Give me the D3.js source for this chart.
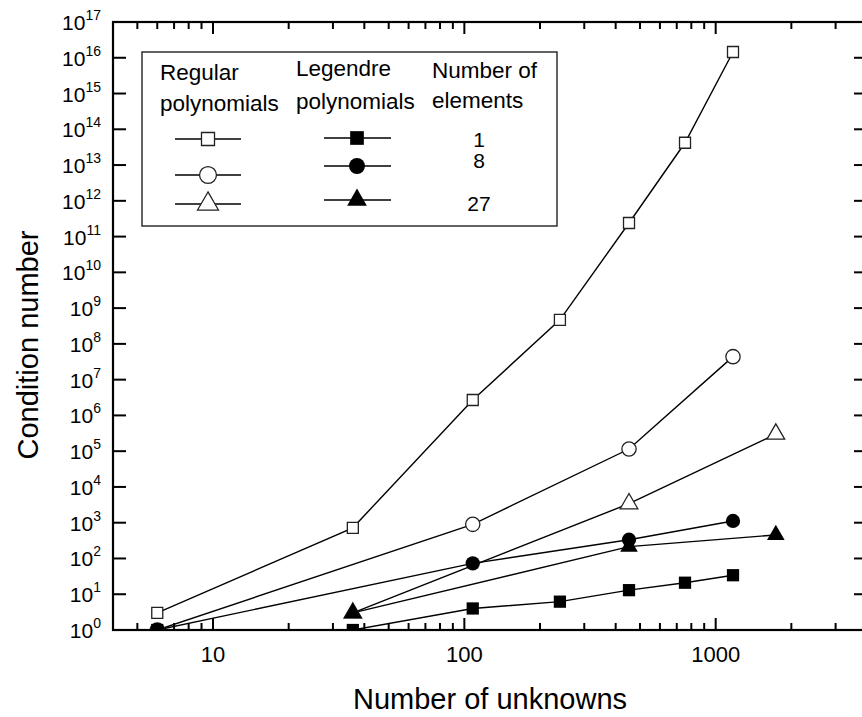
<!DOCTYPE html>
<html>
<head>
<meta charset="utf-8">
<script src="https://cdn.jsdelivr.net/npm/d3@7"></script>
<style>
  body { margin: 0; background: #fff; }
  text { font-family: "Liberation Sans", Arial, sans-serif; fill: #000; }
</style>
</head>
<body>
<div id="chart"></div>
<script>
// Data
const unknowns1 = [6, 36, 108, 240, 452, 755, 1172];
const regular1 = [3, 720, 2.7e6, 4.7e8, 2.4e11, 4.2e13, 1.45e16];
const legendre1 = [1, 1, 4.0, 6.2, 13, 21, 34];

const unknowns8 = [6, 108, 452, 1172];
const regular8 = [1, 900, 1.15e5, 4.4e7];
const legendre8 = [1, 73, 335, 1120];

const unknowns27 = [36, 452, 1735];
const regular27 = [3, 3400, 3.0e5];
const legendre27 = [3, 214, 454];

const yTickExps = d3.range(0, 18);
const xTickLabels = [10, 100, 1000];
const legendElements = ['1', '8', '27'];

const width = 862;
const height = 717;
const margin = {'top': 22, 'right': -5, 'bottom': 87, 'left': 113};

const x = d3.scaleLog().domain([4, 4000]).range([margin.left, width - margin.right]);
const y = d3.scaleLog().domain([1, 1e17]).range([height - margin.bottom, margin.top]);

const svg = d3.select('#chart')
    .append('svg')
    .attr('width', width)
    .attr('height', height);

svg.append('clipPath')
    .attr('id', 'plot-clip')
    .append('rect')
    .attr('x', margin.left)
    .attr('y', margin.top)
    .attr('width', x.range()[1] - margin.left)
    .attr('height', y.range()[0] - margin.top);

// marker shapes
const shapes = {
    square: { type: d3.symbolSquare, size: 121 },
    bigSquare: { type: d3.symbolSquare, size: 150 },
    circle: { type: d3.symbolCircle, size: 160 },
    triangle: { type: d3.symbolTriangle, size: 135 }
};

const series = [
    { xs: unknowns1, ys: regular1, shape: 'square', filled: false },
    { xs: unknowns8, ys: regular8, shape: 'circle', filled: false },
    { xs: unknowns27, ys: regular27, shape: 'triangle', filled: false },
    { xs: unknowns1, ys: legendre1, shape: 'bigSquare', filled: true },
    { xs: unknowns8, ys: legendre8, shape: 'circle', filled: true },
    { xs: unknowns27, ys: legendre27, shape: 'triangle', filled: true }
];

const plot = svg.append('g').attr('clip-path', 'url(#plot-clip)');

const line = d3.line()
    .x(d => x(d[0]))
    .y(d => y(d[1]));

series.forEach(s => {
    const pts = s.xs.map((v, i) => [v, s.ys[i]]);
    plot.append('path')
        .datum(pts)
        .attr('fill', 'none')
        .attr('stroke', '#000')
        .attr('stroke-width', 1.4)
        .attr('d', line);
});

series.forEach(s => {
    const pts = s.xs.map((v, i) => [v, s.ys[i]]);
    const sym = d3.symbol().type(shapes[s.shape].type).size(shapes[s.shape].size);
    plot.selectAll(null)
        .data(pts)
        .enter()
        .append('path')
        .attr('d', sym)
        .attr('transform', d => `translate(${x(d[0])}, ${y(d[1])})`)
        .attr('fill', s.filled ? '#000' : '#fff')
        .attr('stroke', s.filled ? 'none' : '#222')
        .attr('stroke-width', 1.3);
});

// frame
const x0 = margin.left, x1 = x.range()[1];
const y0 = margin.top, y1 = y.range()[0];
svg.append('rect')
    .attr('x', x0).attr('y', y0)
    .attr('width', x1 - x0).attr('height', y1 - y0)
    .attr('fill', 'none')
    .attr('stroke', '#000')
    .attr('stroke-width', 2.2);

// x ticks (major and minor, both sides, pointing inwards)
const xTicks = x.ticks().filter(v => v >= 4 && v <= 4000);
xTicks.forEach(v => {
    const major = Math.abs(Math.log10(v) - Math.round(Math.log10(v))) < 1e-9;
    const len = major ? 12 : 7;
    svg.append('line')
        .attr('x1', x(v)).attr('x2', x(v))
        .attr('y1', y1).attr('y2', y1 - len)
        .attr('stroke', '#000').attr('stroke-width', 2);
    svg.append('line')
        .attr('x1', x(v)).attr('x2', x(v))
        .attr('y1', y0).attr('y2', y0 + len)
        .attr('stroke', '#000').attr('stroke-width', 2);
});

svg.selectAll('.xlabel')
    .data(xTickLabels)
    .enter()
    .append('text')
    .attr('x', d => x(d))
    .attr('y', 662)
    .attr('text-anchor', 'middle')
    .style('font-size', '22px')
    .text(d => d);

// y ticks
yTickExps.forEach(e => {
    const v = Math.pow(10, e);
    svg.append('line')
        .attr('x1', x0).attr('x2', x0 + 13)
        .attr('y1', y(v)).attr('y2', y(v))
        .attr('stroke', '#000').attr('stroke-width', 2);
    svg.append('line')
        .attr('x1', x1).attr('x2', x1 - 13)
        .attr('y1', y(v)).attr('y2', y(v))
        .attr('stroke', '#000').attr('stroke-width', 2);
    const t = svg.append('text')
        .attr('x', 101)
        .attr('y', y(v) + 8)
        .attr('text-anchor', 'end')
        .style('font-size', '21px');
    t.append('tspan').text('10');
    t.append('tspan')
        .attr('dy', -10)
        .style('font-size', '14px')
        .text(e);
});

// axis titles
svg.append('text')
    .attr('x', 490)
    .attr('y', 709)
    .attr('text-anchor', 'middle')
    .style('font-size', '29px')
    .text('Number of unknowns');

svg.append('text')
    .attr('transform', 'translate(38, 345) rotate(-90)')
    .attr('text-anchor', 'middle')
    .style('font-size', '29px')
    .text('Condition number');

// legend
const legend = svg.append('g');
legend.append('rect')
    .attr('x', 142).attr('y', 52)
    .attr('width', 415).attr('height', 174)
    .attr('fill', '#fff')
    .attr('stroke', '#222')
    .attr('stroke-width', 1.4);

const headers = [
    { x: 160, lines: ['Regular', 'polynomials'], ys: [80, 111] },
    { x: 296, lines: ['Legendre', 'polynomials'], ys: [76, 109] },
    { x: 432, lines: ['Number of', 'elements'], ys: [78, 108] }
];
headers.forEach(h => {
    h.lines.forEach((l, i) => {
        legend.append('text')
            .attr('x', h.x).attr('y', h.ys[i])
            .style('font-size', '22.5px')
            .text(l);
    });
});

const legendRows = [
    { open: 'square', filled: 'bigSquare', yo: 139, yf: 138, label: 147 },
    { open: 'circle', filled: 'circle', yo: 175, yf: 166, label: 168 },
    { open: 'triangle', filled: 'triangle', yo: 204, yf: 200, label: 211 }
];
legendRows.forEach((r, i) => {
    legend.append('line')
        .attr('x1', 175).attr('x2', 241)
        .attr('y1', r.yo).attr('y2', r.yo)
        .attr('stroke', '#000').attr('stroke-width', 1.4);
    legend.append('path')
        .attr('d', d3.symbol().type(shapes[r.open].type).size(shapes[r.open].size * 1.4))
        .attr('transform', `translate(208, ${r.yo})`)
        .attr('fill', '#fff').attr('stroke', '#222').attr('stroke-width', 1.3);
    legend.append('line')
        .attr('x1', 324).attr('x2', 391)
        .attr('y1', r.yf).attr('y2', r.yf)
        .attr('stroke', '#000').attr('stroke-width', 1.4);
    legend.append('path')
        .attr('d', d3.symbol().type(shapes[r.filled].type).size(shapes[r.filled].size * 1.25))
        .attr('transform', `translate(357, ${r.yf})`)
        .attr('fill', '#000');
    legend.append('text')
        .attr('x', 479).attr('y', r.label)
        .attr('text-anchor', 'middle')
        .style('font-size', '21px')
        .text(legendElements[i]);
});
</script>
</body>
</html>
